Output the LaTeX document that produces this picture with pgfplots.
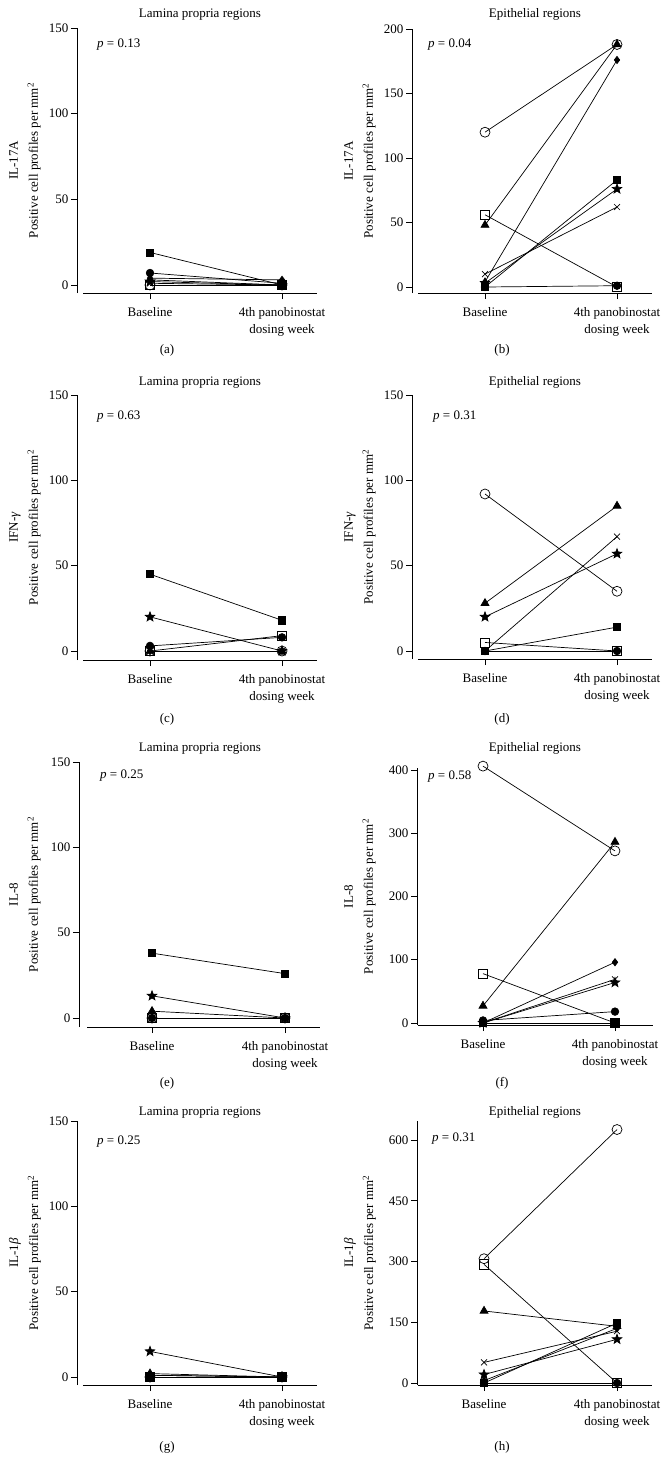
\documentclass[border=0pt]{standalone}
\usepackage{fontspec}
\setmainfont{Liberation Serif}
\usepackage{pgfplots}
\pgfplotsset{compat=1.18}

\pgfdeclareplotmark{fstar}{%
  \pgfpathmoveto{\pgfpointpolar{90}{\pgfplotmarksize}}%
  \pgfpathlineto{\pgfpointpolar{126}{0.42\pgfplotmarksize}}%
  \pgfpathlineto{\pgfpointpolar{162}{\pgfplotmarksize}}%
  \pgfpathlineto{\pgfpointpolar{198}{0.42\pgfplotmarksize}}%
  \pgfpathlineto{\pgfpointpolar{234}{\pgfplotmarksize}}%
  \pgfpathlineto{\pgfpointpolar{270}{0.42\pgfplotmarksize}}%
  \pgfpathlineto{\pgfpointpolar{306}{\pgfplotmarksize}}%
  \pgfpathlineto{\pgfpointpolar{342}{0.42\pgfplotmarksize}}%
  \pgfpathlineto{\pgfpointpolar{18}{\pgfplotmarksize}}%
  \pgfpathlineto{\pgfpointpolar{54}{0.42\pgfplotmarksize}}%
  \pgfpathclose
  \pgfusepathqfillstroke
}

\pgfplotsset{
  panel/.style={
    scale only axis, anchor=south west, clip=false,
    axis x line*=bottom, axis y line*=left,
    xtick={0,1}, xticklabels={Baseline,{4th panobinostat\\dosing week}},
    xticklabel style={align=center, font=\fontsize{13}{17}\selectfont, yshift=-5pt},
    yticklabel style={font=\fontsize{13}{16}\selectfont, xshift=1pt},
    /pgf/number format/assume math mode=true,
    tick align=outside, major tick length=6pt,
    every tick/.style={black, line width=0.7pt},
    axis line style={black, line width=0.7pt},
    ylabel style={align=center, anchor=center, font=\fontsize{13}{20}\selectfont},
    every axis plot/.append style={black, line width=0.7pt},
  },
  oc/.style={black, mark=o, mark size=5pt, mark options={line width=0.7pt}},
  os/.style={black, mark=square, mark size=4.6pt, mark options={line width=0.7pt}},
  tri/.style={black, mark=triangle*, mark size=4.6pt},
  fsq/.style={black, mark=square*, mark size=3.6pt},
  fci/.style={black, mark=*, mark size=3.8pt},
  dia/.style={black, mark=diamond*, mark size=3.6pt},
  fst/.style={black, mark=fstar, mark size=5pt},
  crs/.style={black, mark=x, mark size=4.2pt, mark options={line width=0.7pt}},
}

\newcommand{\ylab}[1]{#1\\Positive cell profiles per mm\textsuperscript{2}}

\begin{document}
\begin{tikzpicture}
\useasboundingbox (0,0) rectangle (670pt,-1462pt);
\tikzset{every node/.style={font=\fontsize{13}{16}\selectfont}}

% ---------------- (a)
\begin{axis}[panel, at={(77pt,-293pt)}, width=240pt, height=265pt,
  xmin=-0.553, xmax=1.265, ymin=-4.67, ymax=150, ytick={0,50,100,150},
  x axis line style={shorten <=6pt},
  ylabel={\ylab{IL-17A}}, ylabel style={at={(axis description cs:-0.2167,0.5)}}]
\addplot[fsq] coordinates {(0,19) (1,0)};
\addplot[fci] coordinates {(0,7) (1,1)};
\addplot[dia] coordinates {(0,4) (1,3)};
\addplot[tri] coordinates {(0,3) (1,0)};
\addplot[fst] coordinates {(0,2) (1,0)};
\addplot[crs] coordinates {(0,1) (1,0)};
\addplot[os] coordinates {(0,0) (1,0)};
\addplot[oc] coordinates {(0,0) (1,0)};
\end{axis}

% ---------------- (b)
\begin{axis}[panel, at={(412pt,-293pt)}, width=240pt, height=264pt,
  xmin=-0.553, xmax=1.265, ymin=-4.65, ymax=200, ytick={0,50,100,150,200},
  x axis line style={shorten <=6pt},
  ylabel={\ylab{IL-17A}}, ylabel style={at={(axis description cs:-0.2167,0.5)}}]
\addplot[tri] coordinates {(0,48) (1,188)};
\addplot[dia] coordinates {(0,4) (1,176)};
\addplot[fsq] coordinates {(0,0) (1,83)};
\addplot[fst] coordinates {(0,3) (1,76)};
\addplot[crs] coordinates {(0,10) (1,62)};
\addplot[fci] coordinates {(0,0) (1,1)};
\addplot[os] coordinates {(0,56) (1,0)};
\addplot[oc] coordinates {(0,120) (1,188)};
\end{axis}

% ---------------- (c)
\begin{axis}[panel, at={(77pt,-660pt)}, width=240pt, height=265pt,
  xmin=-0.553, xmax=1.265, ymin=-5.27, ymax=150, ytick={0,50,100,150},
  x axis line style={shorten <=6pt},
  ylabel={\ylab{IFN-\textit{γ}}}, ylabel style={at={(axis description cs:-0.2167,0.5)}}]
\addplot[fsq] coordinates {(0,45) (1,18)};
\addplot[fst] coordinates {(0,20) (1,0)};
\addplot[fci] coordinates {(0,3) (1,8)};
\addplot[tri] coordinates {(0,0) (1,0)};
\addplot[dia] coordinates {(0,0) (1,0)};
\addplot[crs] coordinates {(0,0) (1,0)};
\addplot[os] coordinates {(0,0) (1,9)};
\addplot[oc] coordinates {(0,0) (1,0)};
\end{axis}

% ---------------- (d)
\begin{axis}[panel, at={(412pt,-659pt)}, width=240pt, height=264pt,
  xmin=-0.553, xmax=1.265, ymin=-4.69, ymax=150, ytick={0,50,100,150},
  x axis line style={shorten <=6pt},
  ylabel={\ylab{IFN-\textit{γ}}}, ylabel style={at={(axis description cs:-0.2167,0.5)}}]
\addplot[tri] coordinates {(0,28) (1,85)};
\addplot[fst] coordinates {(0,20) (1,57)};
\addplot[crs] coordinates {(0,0) (1,67)};
\addplot[fsq] coordinates {(0,0) (1,14)};
\addplot[dia] coordinates {(0,0) (1,0)};
\addplot[fci] coordinates {(0,0) (1,0)};
\addplot[os] coordinates {(0,5) (1,0)};
\addplot[oc] coordinates {(0,92) (1,35)};
\end{axis}

% ---------------- (e)
\begin{axis}[panel, at={(79pt,-1027pt)}, width=241pt, height=265pt,
  xmin=-0.549, xmax=1.263, ymin=-5.27, ymax=150, ytick={0,50,100,150},
  x axis line style={shorten <=8pt},
  ylabel={\ylab{IL-8}}, ylabel style={at={(axis description cs:-0.224,0.5)}}]
\addplot[fsq] coordinates {(0,38) (1,26)};
\addplot[fst] coordinates {(0,13) (1,0)};
\addplot[tri] coordinates {(0,4) (1,0)};
\addplot[fci] coordinates {(0,0) (1,0)};
\addplot[dia] coordinates {(0,0) (1,0)};
\addplot[crs] coordinates {(0,0) (1,0)};
\addplot[os] coordinates {(0,0) (1,0)};
\addplot[oc] coordinates {(0,0) (1,0)};
\end{axis}

% ---------------- (f)
\begin{axis}[panel, at={(417pt,-1025pt)}, width=236pt, height=257pt,
  xmin=-0.5, xmax=1.288, ymin=-3.2, ymax=403, ytick={0,100,200,300,400},
  x axis line style={shorten <=1pt},
  ylabel={\ylab{IL-8}}, ylabel style={at={(axis description cs:-0.2415,0.5)}}]
\addplot[tri] coordinates {(0,27) (1,286)};
\addplot[dia] coordinates {(0,0) (1,96)};
\addplot[crs] coordinates {(0,0) (1,69)};
\addplot[fst] coordinates {(0,0) (1,64)};
\addplot[fci] coordinates {(0,4) (1,18)};
\addplot[fsq] coordinates {(0,0) (1,0)};
\addplot[os] coordinates {(0,78) (1,0)};
\addplot[oc] coordinates {(0,406) (1,272)};
\end{axis}

% ---------------- (g)
\begin{axis}[panel, at={(77pt,-1385pt)}, width=240pt, height=264pt,
  xmin=-0.553, xmax=1.265, ymin=-4.69, ymax=150, ytick={0,50,100,150},
  x axis line style={shorten <=6pt},
  ylabel={\ylab{IL-1\textit{β}}}, ylabel style={at={(axis description cs:-0.2167,0.5)}}]
\addplot[fst] coordinates {(0,15) (1,0)};
\addplot[tri] coordinates {(0,2) (1,0)};
\addplot[dia] coordinates {(0,1) (1,0)};
\addplot[fci] coordinates {(0,1) (1,0)};
\addplot[crs] coordinates {(0,0) (1,0)};
\addplot[os] coordinates {(0,0) (1,0)};
\addplot[oc] coordinates {(0,0) (1,0)};
\addplot[fsq] coordinates {(0,0) (1,0)};
\end{axis}

% ---------------- (h)
\begin{axis}[panel, at={(417pt,-1385pt)}, width=235pt, height=264pt,
  xmin=-0.504, xmax=1.263, ymin=-4.9, ymax=647, ytick={0,150,300,450,600},
  x axis line style={shorten <=1pt},
  ylabel={\ylab{IL-1\textit{β}}}, ylabel style={at={(axis description cs:-0.2426,0.5)}}]
\addplot[tri] coordinates {(0,178) (1,140)};
\addplot[fsq] coordinates {(0,0) (1,148)};
\addplot[dia] coordinates {(0,6) (1,135)};
\addplot[crs] coordinates {(0,51) (1,128)};
\addplot[fst] coordinates {(0,21) (1,108)};
\addplot[fci] coordinates {(0,0) (1,0)};
\addplot[os] coordinates {(0,293) (1,0)};
\addplot[oc] coordinates {(0,307) (1,626)};
\end{axis}

% titles
\node[anchor=base] at (200pt,-17pt) {Lamina propria regions};
\node[anchor=base] at (535pt,-17pt) {Epithelial regions};
\node[anchor=base] at (200pt,-385pt) {Lamina propria regions};
\node[anchor=base] at (535pt,-385pt) {Epithelial regions};
\node[anchor=base] at (200pt,-751pt) {Lamina propria regions};
\node[anchor=base] at (535pt,-751pt) {Epithelial regions};
\node[anchor=base] at (200pt,-1115pt) {Lamina propria regions};
\node[anchor=base] at (535pt,-1115pt) {Epithelial regions};

% p values
\node[anchor=base west, inner sep=0pt] at (97pt,-47pt) {\textit{p} = 0.13};
\node[anchor=base west, inner sep=0pt] at (428pt,-47pt) {\textit{p} = 0.04};
\node[anchor=base west, inner sep=0pt] at (97pt,-419pt) {\textit{p} = 0.63};
\node[anchor=base west, inner sep=0pt] at (433pt,-419pt) {\textit{p} = 0.31};
\node[anchor=base west, inner sep=0pt] at (100pt,-778pt) {\textit{p} = 0.25};
\node[anchor=base west, inner sep=0pt] at (428pt,-779pt) {\textit{p} = 0.58};
\node[anchor=base west, inner sep=0pt] at (97pt,-1144pt) {\textit{p} = 0.25};
\node[anchor=base west, inner sep=0pt] at (432pt,-1141pt) {\textit{p} = 0.31};

% panel letters
\node at (167pt,-350pt) {(a)};
\node at (502pt,-350pt) {(b)};
\node at (167pt,-719pt) {(c)};
\node at (502pt,-719pt) {(d)};
\node at (167pt,-1083pt) {(e)};
\node at (502pt,-1083pt) {(f)};
\node at (167pt,-1447pt) {(g)};
\node at (502pt,-1447pt) {(h)};
\end{tikzpicture}
\end{document}
